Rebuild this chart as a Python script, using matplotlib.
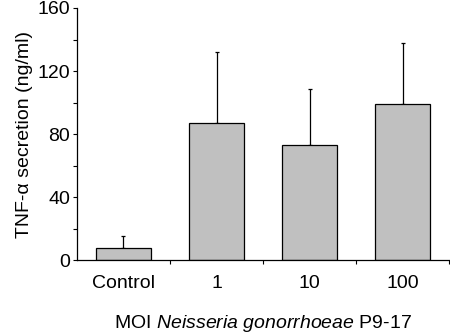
import matplotlib
matplotlib.use('Agg')
import matplotlib.pyplot as plt
import numpy as np

# ------------------------------------------------------------------ #
# Data
# ------------------------------------------------------------------ #
categories = ['Control', '1', '10', '100']
tnf_mean   = [7.4, 86.8, 73.0, 99.0]
tnf_err    = [7.8, 45.1, 35.4, 38.6]   # upper error only
yticks     = [0, 40, 80, 120, 160]

plt.rcParams['font.family'] = ['Liberation Sans', 'DejaVu Sans']
plt.rcParams['mathtext.fontset'] = 'custom'
plt.rcParams['mathtext.rm'] = 'Liberation Sans'
plt.rcParams['mathtext.it'] = 'Liberation Sans:italic'

fig = plt.figure(figsize=(4.5, 3.33), dpi=100)
ax = fig.add_axes([0.171, 0.219, 0.827, 0.757])

x = np.arange(len(categories))
ax.bar(x, tnf_mean, width=0.59, color='#c0c0c0', edgecolor='black',
       linewidth=0.9, zorder=2)
ax.errorbar(x, tnf_mean, yerr=[np.zeros(len(x)), tnf_err], fmt='none',
            ecolor='black', elinewidth=0.9, capsize=1.5, capthick=0.9, zorder=1)

ax.set_xlim(-0.5, 3.5)
ax.set_ylim(0, 160)
ax.set_yticks(yticks)
ax.set_yticks([20, 60, 100, 140], minor=True)
ax.set_xticks(x)
ax.set_xticklabels(categories)
ax.set_xticks([0.5, 1.5, 2.5, 3.5], minor=True)

ax.tick_params(axis='y', which='both', direction='out', length=3, width=0.8,
               labelsize=14, pad=2)
ax.tick_params(axis='x', which='major', length=0, labelsize=14, pad=11)
ax.tick_params(axis='x', which='minor', direction='out', length=3, width=0.8)

for s in ['top', 'right']:
    ax.spines[s].set_visible(False)
for s in ['left', 'bottom']:
    ax.spines[s].set_linewidth(0.9)

ax.set_ylabel('TNF-α secretion (ng/ml)', fontsize=14, labelpad=3)
ax.set_xlabel(r'MOI $\mathit{Neisseria\ gonorrhoeae}$ P9-17', fontsize=14,
              labelpad=15)

plt.savefig('out.png', dpi=100)
plt.close()
